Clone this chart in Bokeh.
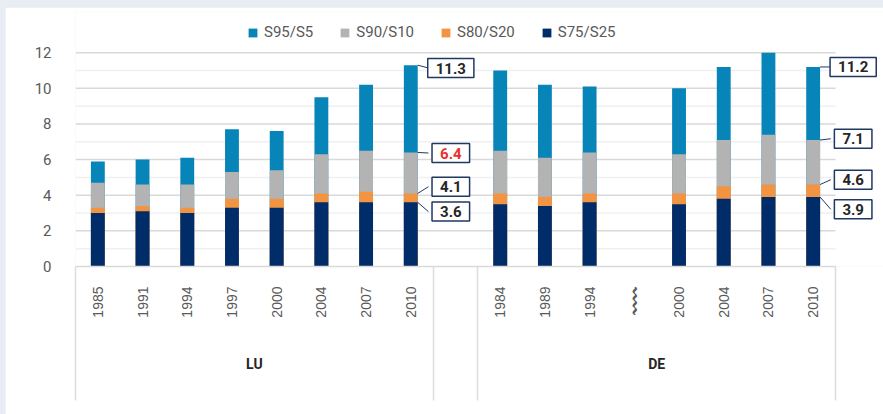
import math
from bokeh.plotting import figure
from bokeh.models import (Range1d, FixedTicker, LinearAxis, Legend, LegendItem,
                          Label, ColumnDataSource, GlobalInlineStyleSheet)
from bokeh.embed import file_html
from bokeh.resources import INLINE

# ---------------- data ----------------
series_names = ["S95/S5", "S90/S10", "S80/S20", "S75/S25"]
groups = ["LU", "DE"]

lu_years = ["1985", "1991", "1994", "1997", "2000", "2004", "2007", "2010"]
lu_s95 = [5.9, 6.0, 6.1, 7.7, 7.6, 9.5, 10.2, 11.3]
lu_s90 = [4.7, 4.6, 4.6, 5.3, 5.4, 6.3, 6.5, 6.4]
lu_s80 = [3.3, 3.4, 3.3, 3.8, 3.8, 4.1, 4.2, 4.1]
lu_s75 = [3.0, 3.1, 3.0, 3.3, 3.3, 3.6, 3.6, 3.6]

de_years = ["1984", "1989", "1994", "〰〰", "2000", "2004", "2007", "2010"]
de_s95 = [11.0, 10.2, 10.1, None, 10.0, 11.2, 12.0, 11.2]
de_s90 = [6.5, 6.1, 6.4, None, 6.3, 7.1, 7.4, 7.1]
de_s80 = [4.1, 3.9, 4.1, None, 4.1, 4.5, 4.6, 4.6]
de_s75 = [3.5, 3.4, 3.6, None, 3.5, 3.8, 3.9, 3.9]

y_ticks = [0, 2, 4, 6, 8, 10, 12]
y_minor = [1, 3, 5, 7, 9, 11]

# ---------------- styles ----------------
colors = ["#0784b8", "#b3b3b3", "#f29441", "#002c69"]
navy_line = "#1f3864"
label_colors = ["#262626", "#e8322d", "#262626", "#262626"]  # LU 6.4 shown in red
grey_txt = "#595959"

# ---------------- layout (pixels) ----------------
W, H = 878, 407
left_b, top_b, bottom_b = 70, 4, 148
plot_w_px = 760        # width covered by the 17 category slots
px_per_unit_y = 213.8 / 12

n_lu = len(lu_years)
n_de = len(de_years)
x_lu = [i + 0.5 for i in range(n_lu)]
x_de = [n_lu + 1 + j + 0.5 for j in range(n_de)]
x_total = n_lu + 1 + n_de

frame_w = W - left_b
frame_h = H - top_b - bottom_b
x_end = x_total * frame_w / plot_w_px
y_end = frame_h / px_per_unit_y

lu_series = [lu_s95, lu_s90, lu_s80, lu_s75]
de_series = [de_s95, de_s90, de_s80, de_s75]

page_css = GlobalInlineStyleSheet(css="body { background-color: #e8ecf3; padding: 7px 0 0 5px; }")

p = figure(width=W, height=H, output_backend="svg", toolbar_location=None,
           x_range=Range1d(0, x_end), y_range=Range1d(0, y_end),
           min_border_left=left_b, min_border_right=0, min_border_top=top_b,
           min_border_bottom=bottom_b, stylesheets=[page_css])
p.title.visible = False
p.title.text_font_size = "1px"
p.title.standoff = 0
p.outline_line_color = None
p.background_fill_color = "white"
p.border_fill_color = "white"
p.xgrid.grid_line_color = None
p.ygrid.grid_line_color = None

# grid lines, limited to the category area
p.segment(x0=[0] * len(y_minor), x1=[x_total] * len(y_minor), y0=y_minor, y1=y_minor,
          line_color="#f0f0f0", line_width=1.5)
p.segment(x0=[0] * (len(y_ticks) - 1), x1=[x_total] * (len(y_ticks) - 1),
          y0=y_ticks[1:], y1=y_ticks[1:], line_color="#d9d9d9", line_width=1.5)

bar_w = 0.31
renderers = []
for k, name in enumerate(series_names):
    xs, tops = [], []
    for x, v in zip(x_lu, lu_series[k]):
        if v is not None:
            xs.append(x); tops.append(v)
    for x, v in zip(x_de, de_series[k]):
        if v is not None:
            xs.append(x); tops.append(v)
    src = ColumnDataSource(dict(x=xs, top=tops))
    r = p.vbar(x="x", top="top", bottom=0, width=bar_w, source=src,
               fill_color=colors[k], line_color=None)
    renderers.append(r)

# ---------------- axes ----------------
p.yaxis.ticker = FixedTicker(ticks=y_ticks, minor_ticks=[])
p.yaxis.axis_line_color = None
p.yaxis.major_tick_line_color = None
p.yaxis.minor_tick_line_color = None
p.yaxis.major_label_standoff = 18
p.yaxis.major_label_text_font = "Roboto"
p.yaxis.major_label_text_font_size = "15px"
p.yaxis.major_label_text_color = grey_txt

xa = p.xaxis[0]
xa.ticker = FixedTicker(ticks=x_lu + x_de, minor_ticks=[])
xa.major_label_overrides = {x: y for x, y in zip(x_lu + x_de, lu_years + de_years)}
xa.major_label_orientation = math.pi / 2
xa.major_label_standoff = 20
xa.major_label_text_font = "Liberation Sans"
xa.major_label_text_font_size = "14px"
xa.major_label_text_color = grey_txt
xa.major_tick_line_color = None
xa.minor_tick_line_color = None
xa.major_tick_in = 0
xa.major_tick_out = 0
xa.minor_tick_in = 0
xa.minor_tick_out = 0
xa.axis_line_color = "#d9d9d9"
xa.axis_line_width = 1.5
xa.bounds = (0, x_total)

group_centers = [n_lu / 2, n_lu + 1 + n_de / 2]
ga = LinearAxis(ticker=FixedTicker(ticks=group_centers, minor_ticks=[]),
                major_label_overrides={c: g for c, g in zip(group_centers, groups)})
ga.axis_line_color = None
ga.major_tick_line_color = None
ga.minor_tick_line_color = None
ga.major_tick_in = 0
ga.major_tick_out = 0
ga.minor_tick_in = 0
ga.minor_tick_out = 0
ga.major_label_standoff = 35
ga.major_label_text_font = "Roboto"
ga.major_label_text_font_style = "bold"
ga.major_label_text_font_size = "14px"
ga.major_label_text_color = "#262626"
p.add_layout(ga, "below")

sep_pos = [0, n_lu, n_lu + 1, x_total]
sa = LinearAxis(ticker=FixedTicker(ticks=sep_pos, minor_ticks=[]),
                major_label_overrides={s: "" for s in sep_pos})
sa.axis_line_color = None
sa.major_tick_line_color = "#dcdcdc"
sa.major_tick_line_width = 1.5
sa.major_tick_in = 108
sa.major_tick_out = 26
sa.minor_tick_line_color = None
sa.minor_tick_in = 0
sa.minor_tick_out = 0
sa.major_label_standoff = 0
sa.major_label_text_font_size = "1px"
sa.major_label_text_alpha = 0
p.add_layout(sa, "below")

# ---------------- legend (inside the extended frame, above the bars) ----------------
legend = Legend(items=[LegendItem(label=n, renderers=[r]) for n, r in zip(series_names, renderers)],
                orientation="horizontal", location=(172, 225),
                glyph_width=11, glyph_height=11, label_standoff=6, spacing=26,
                padding=0, margin=0, border_line_color=None, background_fill_alpha=0,
                label_text_font="Roboto", label_text_font_size="15px",
                label_text_color=grey_txt)
p.add_layout(legend, "center")

# ---------------- callout labels ----------------
lu_last = [s[-1] for s in lu_series]
de_last = [s[-1] for s in de_series]
lu_shift = [-0.16, -0.03, 0.38, -0.52]
de_shift = [0.0, 0.07, 0.27, -0.69]
gap = 0.24        # bar edge -> box edge (data units)
half_box = 0.50   # half box width (data units)

for xs_last, vals, shifts, is_lu in [(x_lu[-1], lu_last, lu_shift, True),
                                      (x_de[-1], de_last, de_shift, False)]:
    x0 = xs_last + bar_w / 2
    x1 = x0 + gap
    ly = [v + s for v, s in zip(vals, shifts)]
    p.segment(x0=[x0] * len(vals), y0=vals, x1=[x1] * len(vals), y1=ly,
              line_color=navy_line, line_width=1)
    for k, (v, yy) in enumerate(zip(vals, ly)):
        p.add_layout(Label(x=x1 + half_box, y=yy, x_units="data", y_units="data",
                           text=f"{v:.1f}", text_align="center", text_baseline="middle",
                           text_font="Roboto", text_font_size="15px", text_font_style="bold",
                           text_color=label_colors[k] if is_lu else "#262626",
                           background_fill_color="white",
                           border_line_color=navy_line, border_line_width=1.5,
                           padding=dict(left=8, right=8, top=4, bottom=4)))

open("out.html", "w").write(file_html(p, INLINE))
